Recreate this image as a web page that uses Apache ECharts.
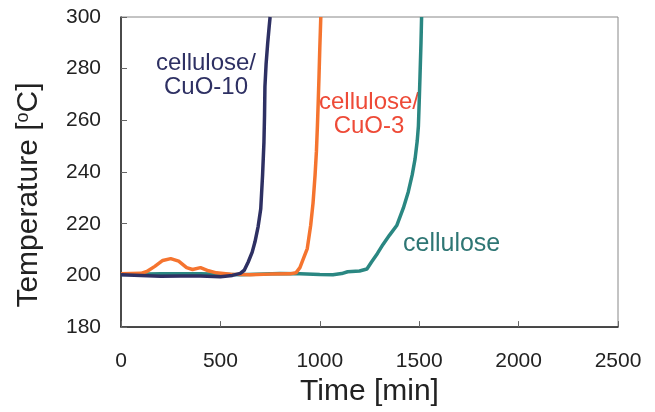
<!DOCTYPE html>
<html>
<head>
<meta charset="utf-8">
<script src="https://cdn.jsdelivr.net/npm/echarts@6/dist/echarts.min.js"></script>
<style>
  html, body { margin: 0; padding: 0; background: #fff; }
  #chart { width: 655px; height: 412px; }
</style>
</head>
<body>
<div id="chart"></div>
<script>
// [time (min), temperature (oC)]
const cuo10 = [
  [0, 200.3], [100, 200], [200, 199.7], [300, 199.8], [400, 199.8], [500, 199.5],
  [560, 200], [600, 200.8], [620, 202], [640, 205.2], [660, 209], [674, 213],
  [690, 219], [703, 225.8], [712, 238.6], [719, 251.5], [722, 262], [724, 273],
  [730, 282], [738, 290], [745, 296], [750, 300]
];
const cuo3 = [
  [0, 200.6], [100, 200.8], [130, 201.5], [170, 203.5], [210, 205.8], [250, 206.5],
  [290, 205.5], [330, 203], [360, 202.3], [400, 203], [440, 201.8], [480, 201],
  [550, 200.5], [650, 200.3], [750, 200.5], [850, 200.6], [880, 201], [900, 203],
  [915, 206], [937, 210.4], [954, 219.3], [966, 228], [976, 238.6], [983, 248],
  [988, 257.8], [992, 267], [996, 277], [1000, 288], [1003, 295], [1005, 300]
];
const cellulose = [
  [0, 200.4], [200, 200.6], [400, 200.6], [600, 200.3], [800, 200.7], [900, 200.6],
  [1000, 200.4], [1066, 200.3], [1110, 200.7], [1140, 201.4], [1200, 201.7], [1237, 202.5],
  [1261, 205.3], [1290, 208.5], [1318, 212], [1350, 215.5], [1387, 219.3],
  [1420, 226], [1445, 232.3], [1465, 239], [1479, 245], [1490, 252], [1496, 257.8],
  [1500, 267], [1504, 277], [1509, 290], [1512, 300]
];

const navy = '#2e3063';
const orange = '#f5742f';
const orangeText = '#ee4a37';
const teal = '#2a8782';
const tealText = '#2e7674';

const font = '"Liberation Sans", Arial, sans-serif';

const myChart = echarts.init(document.getElementById('chart'));
const option = {
  animation: false,
  grid: {
    left: 121,
    top: 17,
    right: 37,
    bottom: 83,
    show: true,
    borderColor: '#888',
    borderWidth: 1,
  },
  xAxis: {
    type: 'value',
    min: 0,
    max: 2500,
    interval: 500,
    name: 'Time [min]',
    nameLocation: 'middle',
    nameGap: 48,
    nameTextStyle: { fontFamily: font, fontSize: 30, color: '#222' },
    axisLine: { show: true, lineStyle: { color: '#222', width: 1.5 } },
    axisTick: { inside: true, length: 6, lineStyle: { color: '#666' } },
    axisLabel: { margin: 24, fontFamily: font, fontSize: 21, color: '#222', formatter: (v) => String(v) },
    splitLine: { show: false },
  },
  yAxis: {
    type: 'value',
    min: 180,
    max: 300,
    interval: 20,
    name: 'Temperature [{sup|o}C]',
    nameLocation: 'middle',
    nameGap: 77,
    nameTextStyle: {
      fontFamily: font,
      fontSize: 30,
      color: '#222',
      padding: [0, 46, 0, 0],
      rich: {
        sup: { fontFamily: font, fontSize: 18, color: '#222', verticalAlign: 'top', padding: [0, 0, 12, 0] },
      },
    },
    axisLine: { show: true, lineStyle: { color: '#222', width: 1.5 } },
    axisTick: { inside: true, length: 6, lineStyle: { color: '#666' } },
    axisLabel: { margin: 20, fontFamily: font, fontSize: 21, color: '#222' },
    splitLine: { show: false },
  },
  series: [
    {
      name: 'cellulose',
      type: 'line',
      data: cellulose,
      showSymbol: false,
      lineStyle: { color: teal, width: 3.5 },
    },
    {
      name: 'cellulose/CuO-3',
      type: 'line',
      data: cuo3,
      showSymbol: false,
      lineStyle: { color: orange, width: 3.5 },
    },
    {
      name: 'cellulose/CuO-10',
      type: 'line',
      data: cuo10,
      showSymbol: false,
      lineStyle: { color: navy, width: 3.5 },
    },
  ],
  graphic: [
    { type: 'text', style: { x: 206, y: 63, text: 'cellulose/', font: '24px ' + font, fill: navy, textAlign: 'center', textVerticalAlign: 'middle' } },
    { type: 'text', style: { x: 206, y: 87, text: 'CuO-10', font: '24px ' + font, fill: navy, textAlign: 'center', textVerticalAlign: 'middle' } },
    { type: 'text', style: { x: 369, y: 102, text: 'cellulose/', font: '24px ' + font, fill: orangeText, textAlign: 'center', textVerticalAlign: 'middle' } },
    { type: 'text', style: { x: 369, y: 126, text: 'CuO-3', font: '24px ' + font, fill: orangeText, textAlign: 'center', textVerticalAlign: 'middle' } },
    { type: 'text', style: { x: 403, y: 244, text: 'cellulose', font: '25px ' + font, fill: tealText, textAlign: 'left', textVerticalAlign: 'middle' } },
  ],
};

option && myChart.setOption(option);
</script>
</body>
</html>
